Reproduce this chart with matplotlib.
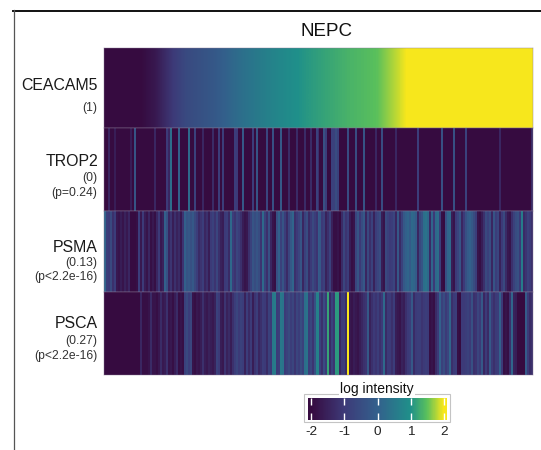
import matplotlib
matplotlib.use("Agg")
import matplotlib.pyplot as plt
from matplotlib.colors import LinearSegmentedColormap, Normalize
from matplotlib.cm import ScalarMappable
from matplotlib.lines import Line2D
from matplotlib.patches import Rectangle

plt.rcParams['font.family'] = ['Liberation Sans', 'DejaVu Sans']
plt.rcParams['axes.unicode_minus'] = False

### Data

ceacam5 = [-2, -2, -2, -1.7, -1.1, -0.6, -0.4, -0.2, 0.1, 0.35,
           0.55, 0.75, 0.9, 1.05, 1.15, 1.25, 1.35, 1.42, 1.5, 1.75,
           2, 2, 2, 2, 2, 2, 2, 2, 2]

trop2 = [-2, -2, -1.4, -2, -2, -1.6, -2, -2, -2, -2,
         -2, -2, -2, -1.6, -2, -0.3, -2, -2, -2, -2,
         -2, -2, -2, -2, -2, -1.4, -2, -2, -2, -2,
         -2, -1.0, -1.4, 0.3, -2, -2, -2, 0.0, -2, -2,
         -2, -2, 0.2, -2, -2, -0.8, -2, -2, -2, -1.4,
         -2, -2, -2, -2, -1.3, -2, -2, -0.9, -2, -0.9,
         -2, -2, -2, -2, -2, -0.9, -1.0, -2, -2, -0.2,
         -2, -2, -2, -2, -0.9, -2, -0.3, -2, -2, -2,
         -2, -0.7, -2, -2, -0.4, -2, -2, -2, -0.2, -2,
         -2, -2, -1.3, -2, -2, -2, -1.3, -2, -2, -2,
         -1.3, -2, -2, -1.3, -2, -2, -0.8, -1.2, -2, -2,
         -0.4, -0.9, -2, -2, -0.8, -0.8, -0.5, -0.8, -2, -2,
         -2, -2, -0.5, -2, -2, -2, -0.5, -2, -2, -2,
         -0.3, -2, -2, -2, -2, -2, -1.4, -2, -2, -0.5,
         -2, -2, -2, -2, -2, -2, -1.4, -2, -2, -2,
         -2, -2, -2, -2, -2, -2, -2, -0.9, -2, -2,
         -2, -2, -2, -2, -2, -2, -2, -2, -2, -0.4,
         -2, -2, -2, -2, -2, -0.4, -2, -2, -2, -2,
         -2, -0.8, -2, -2, -2, -2, -2, -2, -2, -2,
         -2, -2, -2, -2, -2, -2, -2, -2, -1.4, -2,
         -2, -2, -2, -2, -2, -2, -2, -2, -2, -2,
         -2, -2, -2, -2, -1.3]

psma = [0.1, -0.9, -1.0, -0.6, -1.2, -0.9, -1.7, -1.8, -1.6, -1.8,
        -1.5, -1.7, -1.4, -2, -2, -2, -1.9, -0.9, -1.7, -1.0,
        -1.6, -1.8, -1.4, -1.9, -1.7, -1.9, -1.4, -1.0, -1.7, -1.5,
        0.0, -0.4, -1.4, -1.1, -1.6, -1.2, -1.5, -1.3, -1.7, -1.1,
        0.0, -0.3, -0.2, -0.4, -0.2, -0.6, -0.9, -1.3, -1.1, -0.9,
        -1.4, -1.2, -1.6, -1.0, -0.8, -1.1, -0.7, -1.2, -1.5, -1.6,
        -1.0, -0.9, -1.3, 0.2, -0.9, -1.1, -0.7, -0.9, -1.2, -1.6,
        -1.8, -1.7, -1.2, -0.8, -0.3, -0.5, -0.3, -0.5, -1.1, 0.2,
        -0.8, -1.2, -0.4, -1.4, -1.8, -1.9, -0.4, 0.0, -0.8, -0.3,
        -0.9, -1.3, -0.7, -0.2, 0.1, -1.2, -1.0, -0.7, -0.3, -1.4,
        -0.8, -0.5, -1.3, -1.0, -0.6, -0.9, -1.1, -0.1,
        -0.2, -1.0, -0.8, -1.5, -1.2, -0.8, -1.5, -1.9, -1.9, -1.8,
        -2, -1.3, -0.7, -1.1, -0.9, -1.6, -1.9, -1.8, -0.7, -0.3,
        -1.0, -0.5, -0.2, -1.4, -0.6, -1.2, -0.8, -1.5, -0.9, -0.7,
        -0.5, -1.6, -1.8, -0.6, -0.8, -1.0, -0.9, -0.7, -1.4, -0.2,
        -1.3, -0.8, -0.2, 0.0, 0.1, -0.1, 0.2, 0.1, -0.1, -1.4,
        -0.6, -0.3, 0.3, 0.4, 0.2, -1.3, 0.1, -1.0, 0.2, 0.3,
        -0.9, -1.9, -2, -0.4, 0.1, 0.2, -1.6, -1.8, -1.0, -0.7,
        -0.3, -1.4, -1.0, -0.4, -0.1, 0.0, -0.2, -0.5, -0.9, -1.8,
        -1.9, -1.6, -1.2, -0.6, -0.8, -0.5, -1.4, -0.3, -0.9, -0.7,
        -1.5, -1.0, -0.6, -1.3, -1.7, -1.8, -1.2, -0.8, -0.5, -0.4,
        -1.0, 0.6, -1.3, -1.1, -0.8, -1.0, -1.2]

psca = [-2, -2, -2, -2, -2, -2, -2, -2, -2, -2,
        -2, -2, -2, -2, -2, -2, -2, -2, -1.4, -1.9,
        -1.9, -1.9, -1.8, -1.3, -1.8, -1.8, -1.9, -1.7, -1.3, -1.7,
        -1.6, -1.2, -1.8, -1.7, -1.9, -1.6, -1.3, -1.9, -1.8, -1.9,
        -0.8, -0.6, -0.9, -0.7, -1.8, -1.9, -1.7, -1.8, -1.6, -1.2,
        -1.6, -1.7, -1.5, -1.6, -1.7, -1.5, -0.8, -1.0, -1.6, -1.7,
        -1.1, -1.5, -1.3, -1.6, -1.2, -0.9, -0.7, -1.0, -0.8, -0.9,
        -1.5, -0.9, -1.3, -1.0, -1.6, -1.1, -0.9, -1.4, -1.2, -0.9,
        -1.0, -1.3, -0.8, -1.0, 0.5, 0.6, -1.0, -0.9, 0.5, 0.4,
        -1.0, -0.8, -0.6, -0.9, -0.7, -1.1, -0.7, -0.9, -0.5, -0.8,
        0.3, 0.4, -0.9, -0.7, -1.1, -0.4, 0.7, 0.7, -0.8, -1.2,
        -0.5, -1.0, 1.2, -1.3, -0.8, -1.1, 1.1, 1.1, -1.4, -1.0,
        -0.9, -1.3, 2.0, -1.7, -1.8, -1.6, -1.7, -1.8, -1.6, -1.4,
        -1.2, -1.1, -0.2, -1.5, -1.2, -1.0, -1.1, -0.9, -1.2, -1.0,
        0.2, -1.3, -1.0, -1.0, -1.2, -0.9, -1.6, -1.7, -1.8, -1.5,
        -1.6, -1.2, -1.0, -0.9, -0.2, -1.3, -1.0, -0.9, -0.9, -1.1,
        -1.0, -0.9, -1.0, -1.9, -1.8, -1.9, -1.3, -1.0, 0.0, -0.8,
        -0.5, -1.0, -0.7, 0.1, -1.2, -1.0, -0.9, -1.9, -2, -1.0,
        -1.0, -0.9, -0.8, -1.0, -0.4, -1.2, -1.1, -0.7, -1.0, -0.2,
        -1.4, -1.0, -1.3, -0.2, -1.0, -1.2, -1.0, -0.9, 0.0, -1.0,
        -1.9, -1.8, -1.9, -1.2, 0.1, -1.5, -1.6, -2, -2, -2,
        -2, -0.1, -1.0, -1.3, -1.2]

markers = ['CEACAM5', 'TROP2', 'PSMA', 'PSCA']
rows = [ceacam5, trop2, psma, psca]
row_notes = [['(1)'], ['(0)', '(p=0.24)'], ['(0.13)', '(p<2.2e-16)'], ['(0.27)', '(p<2.2e-16)']]
cbar_ticks = [-2, -1, 0, 1, 2]

### Config

W, H = 541, 450
row_edges = [47.5, 128, 211, 292, 375]      # pixels from the top
name_y = [86, 161, 247, 324]
note_y = [[108], [178, 193], [263, 277], [341, 356]]
vmin, vmax = -2.1, 2.1

def fx(x): # pixels to figure x
    return x/W

def fy(y): # pixels from top to figure y
    return 1-y/H

nodes = [(-2.1, '#360b40'), (-2, '#360b40'), (-1, '#3d3a78'), (0, '#33608c'),
         (1, '#1f908a'), (1.5, '#5ac05c'), (2, '#f7e71c'), (2.1, '#f7e71c')]
logcmap = LinearSegmentedColormap.from_list('logint', [((v-vmin)/(vmax-vmin), c) for v, c in nodes], N=256)
lognorm = Normalize(vmin, vmax)

fig = plt.figure(figsize=(W/100, H/100), dpi=100)

# page frame, top and left only
fig.add_artist(Line2D([fx(13), 1], [fy(10.5), fy(10.5)], color='#111111', lw=1.4))
fig.add_artist(Line2D([fx(13.5), fx(13.5)], [fy(10), 0], color='#555555', lw=0.9))

for i in range(4):
    ax = fig.add_axes([fx(104), fy(row_edges[i+1]), fx(533)-fx(104), (row_edges[i+1]-row_edges[i])/H])
    interp = 'bilinear' if i == 0 else 'nearest'
    ax.imshow([rows[i]], aspect='auto', cmap=logcmap, norm=lognorm, interpolation=interp)
    ax.set_xticks([])
    ax.set_yticks([])
    for s in ax.spines.values():
        s.set_color('#8a7a96')
        s.set_linewidth(0.3)
    fig.text(fx(98), fy(name_y[i]), markers[i], ha='right', va='center', fontsize=11.4, color='#1a1a1a')
    for note, y in zip(row_notes[i], note_y[i]):
        fig.text(fx(97.5), fy(y), note, ha='right', va='center', fontsize=8.7, color='#333333')

fig.text(fx(326), fy(31), 'NEPC', ha='center', va='center', fontsize=13.5, color='#111111')

# legend
fig.add_artist(Rectangle((fx(304), fy(422)), fx(450)-fx(304), (422-394)/H, fill=False, ec='#c4c4c4', lw=0.8, transform=fig.transFigure))
cax = fig.add_axes([fx(308), fy(420), fx(447)-fx(308), (420-398)/H])
cb = fig.colorbar(ScalarMappable(norm=lognorm, cmap=logcmap), cax=cax, orientation='horizontal', ticks=cbar_ticks)
cb.outline.set_visible(False)
cax.tick_params(axis='x', direction='in', top=True, bottom=True, color='white', width=1, length=5, labelsize=9.7, labelcolor='#222222', pad=4)
fig.text(fx(377), fy(389.5), 'log intensity', ha='center', va='center', fontsize=10, color='#111111',
         bbox=dict(fc='white', ec='none', pad=0.5))

plt.savefig('out.png', dpi=100)
